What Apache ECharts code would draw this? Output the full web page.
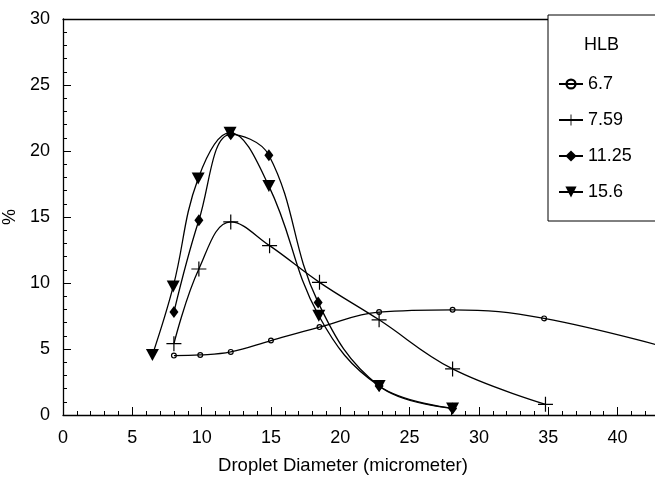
<!DOCTYPE html>
<html>
<head>
<meta charset="utf-8">
<script src="https://cdn.jsdelivr.net/npm/echarts@6/dist/echarts.min.js"></script>
<style>html,body{margin:0;padding:0;background:#fff}#c{width:655px;height:480px}</style>
</head>
<body>
<div id="c"></div>
<script>
const seriesNames = ['6.7', '7.59', '11.25', '15.6'];
const hlb67 = [[8.0, 4.5], [9.9, 4.55], [12.1, 4.78], [15.0, 5.64], [18.5, 6.66], [22.8, 7.8], [28.1, 7.97], [34.7, 7.32], [45.0, 4.7]];
const hlb759 = [[8.0, 5.4], [9.8, 11.06], [12.1, 14.63], [14.9, 12.83], [18.5, 10.05], [22.8, 7.21], [28.1, 3.49], [34.8, 0.81]];
const hlb1125 = [[8.0, 7.8], [9.8, 14.75], [12.1, 21.26], [14.85, 19.68], [18.4, 8.53], [22.8, 2.2], [28.1, 0.5]];
const hlb156 = [[6.45, 4.55], [7.95, 9.74], [9.75, 17.92], [12.05, 21.39], [14.85, 17.34], [18.45, 7.52], [22.8, 2.2], [28.1, 0.5]];
const xTitle = 'Droplet Diameter (micrometer)';
const yTitle = '%';
const legendTitle = 'HLB';

const plusPath = 'path://M4.6,0 H5.4 V4.6 H10 V5.4 H5.4 V10 H4.6 V5.4 H0 V4.6 H4.6 Z';
const triPath = 'path://M0,0 L10,0 L5,10 Z';
const circPath = 'path://M5,0 A5,5 0 1 1 4.99,0 Z M5,2 A3,3 0 1 0 5.01,2 Z';
const font = 'Liberation Sans, Arial, sans-serif';

const chart = echarts.init(document.getElementById('c'), null, {renderer: 'canvas'});
function mk(name, data, symbol, size) {
  return {
    name: name, type: 'line', data: data, smooth: 0.4,
    symbol: symbol, symbolSize: size, showSymbol: true, clip: true,
    lineStyle: {color: '#000', width: 1.3, type: 'solid'},
    itemStyle: {color: '#000'},
    animation: false
  };
}
const option = {
  animation: false,
  grid: {left: 63, top: 19, right: 0, bottom: 65, containLabel: false, outerBoundsMode: 'none'},
  xAxis: [{
    type: 'value', min: 0, max: 42.7, interval: 5,
    axisLine: {lineStyle: {color: '#000', width: 1.3}},
    axisTick: {inside: true, length: 8, lineStyle: {color: '#000'}},
    minorTick: {show: true, splitNumber: 5, length: 4, lineStyle: {color: '#000'}},
    axisLabel: {fontFamily: font, fontSize: 18, color: '#000', margin: 14, showMaxLabel: false},
    splitLine: {show: false}
  }, {
    type: 'value', position: 'top', min: 0, max: 42.7,
    axisLine: {show: true, lineStyle: {color: '#000', width: 1.3}},
    axisTick: {show: false}, axisLabel: {show: false}, splitLine: {show: false}
  }],
  yAxis: {
    type: 'value', min: 0, max: 30, interval: 5,
    name: yTitle, nameLocation: 'middle', nameGap: 44, nameRotate: 90,
    nameTextStyle: {fontFamily: font, fontSize: 18, color: '#000'},
    axisLine: {show: true, lineStyle: {color: '#000', width: 1.3}},
    axisTick: {inside: true, length: 8, lineStyle: {color: '#000'}},
    minorTick: {show: true, splitNumber: 5, length: 4, lineStyle: {color: '#000'}},
    axisLabel: {fontFamily: font, fontSize: 18, color: '#000', margin: 13},
    splitLine: {show: false}
  },
  legend: {
    orient: 'vertical', left: 548, top: 15,
    padding: [60, 40, 20, 10], itemGap: 18, itemWidth: 24, itemHeight: 14,
    borderColor: '#000', borderWidth: 1, backgroundColor: '#fff',
    textStyle: {fontFamily: font, fontSize: 18, color: '#000'},
    data: seriesNames
  },
  graphic: [{
    type: 'text', left: 584, top: 36, z: 100,
    style: {text: legendTitle, font: '18px ' + font, fill: '#000'}
  }, {
    type: 'text', x: 343, y: 466, z: 100,
    style: {text: xTitle, font: '18.5px ' + font, fill: '#000', align: 'center', verticalAlign: 'middle'}
  }],
  series: [
    mk(seriesNames[0], hlb67, circPath, 6),
    mk(seriesNames[1], hlb759, plusPath, 15),
    mk(seriesNames[2], hlb1125, 'diamond', [9, 12]),
    mk(seriesNames[3], hlb156, triPath, [13, 12])
  ]
};
chart.setOption(option);
</script>
</body>
</html>
